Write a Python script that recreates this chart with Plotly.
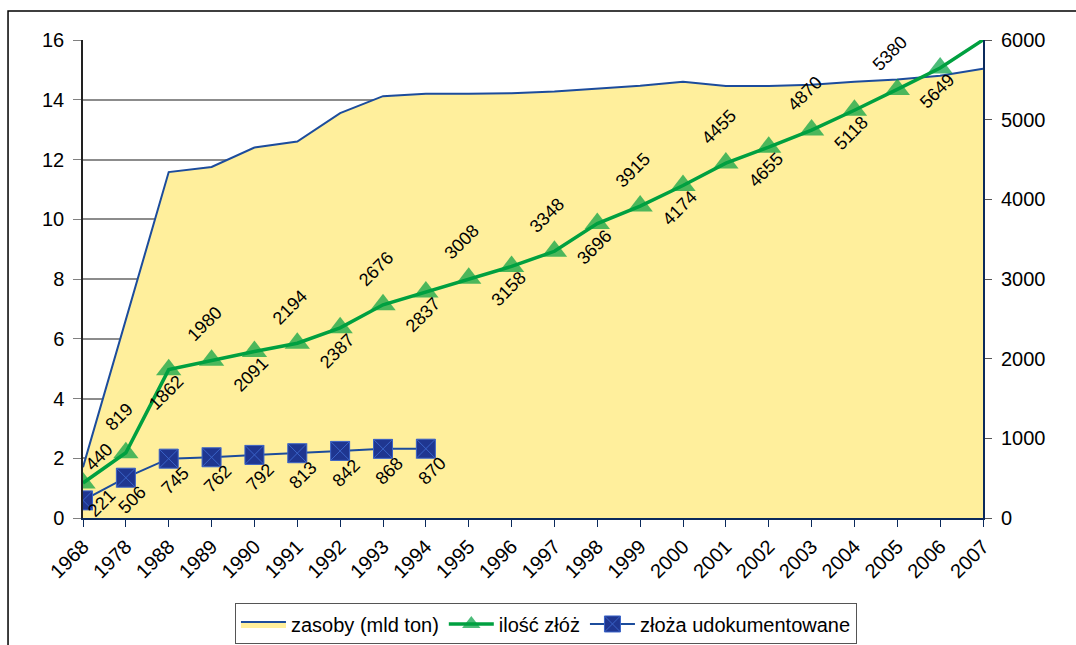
import plotly.graph_objects as go

years = ["1968", "1978", "1988", "1989", "1990", "1991", "1992", "1993", "1994", "1995",
         "1996", "1997", "1998", "1999", "2000", "2001", "2002", "2003", "2004", "2005",
         "2006", "2007"]
zasoby = [1.7, 6.6, 11.58, 11.75, 12.4, 12.6, 13.55, 14.12, 14.2, 14.2,
          14.22, 14.28, 14.37, 14.47, 14.6, 14.46, 14.46, 14.5, 14.6, 14.68,
          14.8, 15.04]
ilosc = [440, 819, 1862, 1980, 2091, 2194, 2387, 2676, 2837, 3008,
         3158, 3348, 3696, 3915, 4174, 4455, 4655, 4870, 5118, 5380,
         5649, 6000]
ilosc_labels = ["440", "819", "1862", "1980", "2091", "2194", "2387", "2676", "2837", "3008",
                "3158", "3348", "3696", "3915", "4174", "4455", "4655", "4870", "5118", "5380",
                "5649", ""]
ilosc_side = ["above", "above", "below", "above", "below", "above", "below", "above", "below", "above",
              "below", "above", "below", "above", "below", "above", "below", "above", "below", "above",
              "below", "none"]
udok_years = years[:9]
udok = [221, 506, 745, 762, 792, 813, 842, 868, 870]

left_ticks = [0, 2, 4, 6, 8, 10, 12, 14, 16]
right_ticks = [0, 1000, 2000, 3000, 4000, 5000, 6000]

FONT = "Liberation Sans, Arial, sans-serif"
YELLOW = "#FFEF9C"
NAVY_LINE = "#1C4C9C"
NAVY_DARK = "#0B2A5C"
GREEN = "#00A040"
SQ = "#1F3690"

# label offsets (pixels) used for layout only
ABOVE_SHIFT = (-7, 36)
BELOW_SHIFT = (-3, -23)
UDOK_SHIFT = (6, -22)
FIRST_GREEN_SHIFT = (16, 26)
FIRST_UDOK_SHIFT = (19, -3)

pos = {y: i for i, y in enumerate(years)}
x_all = [pos[y] for y in years]
x_udok = [pos[y] for y in udok_years]

fig = go.Figure()

fig.add_trace(go.Scatter(
    x=x_all, y=zasoby, name="zasoby (mld ton)", mode="lines",
    fill="tozeroy", fillcolor=YELLOW,
    line=dict(color=NAVY_LINE, width=2), yaxis="y",
))

marker_sizes = [22 if s != "none" else 0 for s in ilosc_side]
fig.add_trace(go.Scatter(
    x=x_all, y=ilosc, name="ilość złóż", mode="lines+markers",
    line=dict(color=GREEN, width=3.5),
    marker=dict(symbol="triangle-up", size=marker_sizes, color=GREEN,
                line=dict(color=GREEN, width=0)),
    yaxis="y2",
))

fig.add_trace(go.Scatter(
    x=x_udok, y=udok, name="złoża udokumentowane", mode="lines+markers",
    line=dict(color=NAVY_LINE, width=2),
    marker=dict(symbol="square-x", size=19, color=SQ, line=dict(color="#3a63c8", width=1)),
    yaxis="y2",
))

annotations = []
for i, (xi, v, lab, side) in enumerate(zip(x_all, ilosc, ilosc_labels, ilosc_side)):
    if side == "none":
        continue
    if i == 0:
        xs, ys = FIRST_GREEN_SHIFT
    elif side == "above":
        xs, ys = ABOVE_SHIFT
    else:
        xs, ys = BELOW_SHIFT
    annotations.append(dict(
        x=xi, y=v, xref="x", yref="y2", text=lab, showarrow=False,
        textangle=-45, xshift=xs, yshift=ys,
        font=dict(family=FONT, size=18, color="#000000"),
    ))
for i, (xi, v) in enumerate(zip(x_udok, udok)):
    xs, ys = FIRST_UDOK_SHIFT if i == 0 else UDOK_SHIFT
    annotations.append(dict(
        x=xi, y=v, xref="x", yref="y2", text=str(v), showarrow=False,
        textangle=-45, xshift=xs, yshift=ys,
        font=dict(family=FONT, size=18, color="#000000"),
    ))

fig.update_layout(
    width=1076, height=645,
    margin=dict(l=83, r=93, t=40, b=127, autoexpand=False),
    paper_bgcolor="white", plot_bgcolor="white",
    font=dict(family=FONT, size=20, color="#000000"),
    showlegend=True,
    legend=dict(
        orientation="h", xref="container", yref="container",
        x=0.5074, xanchor="center", y=0.0326, yanchor="middle",
        bordercolor="#555555", borderwidth=1, bgcolor="white",
        font=dict(family=FONT, size=20, color="#000000"),
        itemwidth=45, traceorder="normal",
    ),
    xaxis=dict(
        range=[0, len(years) - 1],
        tickvals=x_all, ticktext=years,
        tickangle=-45, ticks="outside", ticklen=7, tickcolor=NAVY_DARK,
        showline=True, linecolor=NAVY_DARK, linewidth=2,
        showgrid=False, zeroline=False,
        tickfont=dict(family=FONT, size=20),
    ),
    yaxis=dict(
        range=[0, 16], tickvals=left_ticks,
        ticks="outside", ticklen=8, tickcolor="#808080",
        showline=True, linecolor="#222222", linewidth=1.5,
        showgrid=True, gridcolor="#8C8C8C", gridwidth=2,
        zeroline=False, tickfont=dict(family=FONT, size=20),
        ticklabelstandoff=5,
    ),
    yaxis2=dict(
        range=[0, 6000], tickvals=right_ticks, overlaying="y", side="right",
        ticks="outside", ticklen=7, tickcolor="#555555",
        showline=True, linecolor=NAVY_DARK, linewidth=2,
        showgrid=False, zeroline=False, tickfont=dict(family=FONT, size=20),
        ticklabelstandoff=5,
    ),
    annotations=annotations,
    shapes=[dict(
        type="rect", xref="paper", yref="paper",
        x0=-0.0833, x1=1.13, y0=-0.32, y1=1.0607,
        line=dict(color="#000000", width=1.5), fillcolor="rgba(0,0,0,0)",
        layer="below",
    )],
)

fig.write_html("out.html")
